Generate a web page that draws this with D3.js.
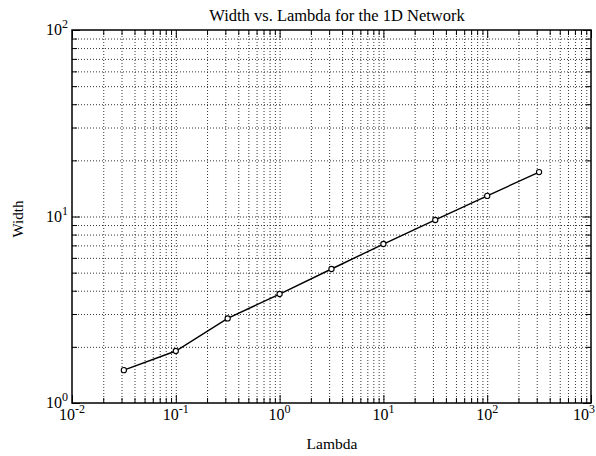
<!DOCTYPE html>
<html>
  <head>
    <meta charset="utf-8">
    <title>Width vs. Lambda</title>
    <style media="screen">
    body{margin: 0; background: #fff}
    text {font-family: "Liberation Serif", "Times New Roman", serif; fill: #000}
    .grid line {stroke: #000; stroke-dasharray: 1,2; stroke-width: .8}
    .grid path, .ticks path {display: none}
    .ticks line {stroke: #000; stroke-width: 1}
    </style>
  </head>
  <body>
    <script src="https://cdnjs.cloudflare.com/ajax/libs/d3/7.8.5/d3.min.js"></script>
    <script type="text/javascript">
      // data
      var lambda = [0.0316, 0.1, 0.316, 1, 3.16, 10, 31.6, 100, 316]
      var width = [1.50, 1.90, 2.84, 3.84, 5.23, 7.12, 9.58, 12.9, 17.3]

      var xDecades = [-2, -1, 0, 1, 2, 3]
      var yDecades = [0, 1, 2]

      var W = 596, H = 456
      var m = {left: 72, right: 5, top: 30, bottom: 53}
      var iw = W - m.left - m.right, ih = H - m.top - m.bottom

      var x = d3.scaleLog().domain([1e-2, 1e3]).range([0, iw])
      var y = d3.scaleLog().domain([1, 100]).range([ih, 0])

      // all 1..9 ticks in each decade
      function logTicks(decs){
        var out = []
        for (var i = 0; i < decs.length - 1; i++)
          for (var k = 1; k < 10; k++) out.push(k * Math.pow(10, decs[i]))
        out.push(Math.pow(10, decs[decs.length - 1]))
        return out
      }
      function isMajor(d){ return Math.abs(Math.log10(d) - Math.round(Math.log10(d))) < 1e-9 }
      var xAll = logTicks(xDecades), yAll = logTicks(yDecades)
      var xMinor = xAll.filter(function(d){ return !isMajor(d) })
      var yMinor = yAll.filter(function(d){ return !isMajor(d) })

      var svg = d3.select('body').append('svg')
        .attr('width', W)
        .attr('height', H)

      var g = svg.append('g').attr('transform', 'translate(' + m.left + ',' + m.top + ')')

      // dotted grid
      g.append('g').attr('class', 'grid')
        .attr('transform', 'translate(0,' + ih + ')')
        .call(d3.axisBottom(x).tickValues(xAll.slice(1, -1)).tickSize(-ih).tickFormat(''))
      g.append('g').attr('class', 'grid')
        .call(d3.axisLeft(y).tickValues(yAll.slice(1, -1)).tickSize(-iw).tickFormat(''))

      // inward ticks on all four sides
      function ticks(axis, vals, size, tr){
        g.append('g').attr('class', 'ticks')
          .attr('transform', tr)
          .call(axis.tickValues(vals).tickSize(-size).tickFormat(''))
      }
      ticks(d3.axisBottom(x), xMinor, 5, 'translate(0,' + ih + ')')
      ticks(d3.axisBottom(x), xAll.filter(isMajor), 8, 'translate(0,' + ih + ')')
      ticks(d3.axisTop(x), xMinor, 5, '')
      ticks(d3.axisTop(x), xAll.filter(isMajor), 8, '')
      ticks(d3.axisLeft(y), yMinor, 5, '')
      ticks(d3.axisLeft(y), yAll.filter(isMajor), 8, '')
      ticks(d3.axisRight(y), yMinor, 5, 'translate(' + iw + ',0)')
      ticks(d3.axisRight(y), yAll.filter(isMajor), 8, 'translate(' + iw + ',0)')

      // frame
      g.append('rect')
        .attr('width', iw).attr('height', ih)
        .attr('fill', 'none').attr('stroke', '#000').attr('stroke-width', 1.5)

      // tick labels 10^n
      function pow10(sel, e){
        sel.append('tspan').text('10')
        sel.append('tspan').attr('dy', -7).attr('font-size', 12).text(e)
      }
      xDecades.forEach(function(e, i){
        var last = i == xDecades.length - 1
        var t = g.append('text')
          .attr('x', last ? W - m.left - 1 : x(Math.pow(10, e)))
          .attr('y', ih + 17)
          .attr('text-anchor', last ? 'end' : 'middle')
          .attr('font-size', 16)
        pow10(t, e)
      })
      yDecades.forEach(function(e){
        var t = g.append('text')
          .attr('x', -4)
          .attr('y', y(Math.pow(10, e)) + 5)
          .attr('text-anchor', 'end')
          .attr('font-size', 16)
        pow10(t, e)
      })

      // data line + open circles
      var line = d3.line()
        .x(function(d, i){ return x(lambda[i]) })
        .y(function(d){ return y(d) })

      g.append('path')
        .datum(width)
        .attr('d', line)
        .attr('fill', 'none')
        .attr('stroke', '#000')
        .attr('stroke-width', 1.4)

      g.selectAll('circle')
        .data(width)
        .enter()
          .append('circle')
          .attr('cx', function(d, i){ return x(lambda[i]) })
          .attr('cy', function(d){ return y(d) })
          .attr('r', 2.6)
          .attr('fill', '#fff')
          .attr('stroke', '#000')
          .attr('stroke-width', 1.1)

      // titles
      svg.append('text')
        .attr('x', 337).attr('y', 21)
        .attr('text-anchor', 'middle')
        .attr('font-size', 16.5)
        .text('Width vs. Lambda for the 1D Network')

      svg.append('text')
        .attr('x', 332).attr('y', 449)
        .attr('text-anchor', 'middle')
        .attr('font-size', 15.5)
        .text('Lambda')

      svg.append('text')
        .attr('transform', 'translate(23,' + 219 + ') rotate(-90)')
        .attr('text-anchor', 'middle')
        .attr('font-size', 15)
        .text('Width')
    </script>
  </body>
</html>
